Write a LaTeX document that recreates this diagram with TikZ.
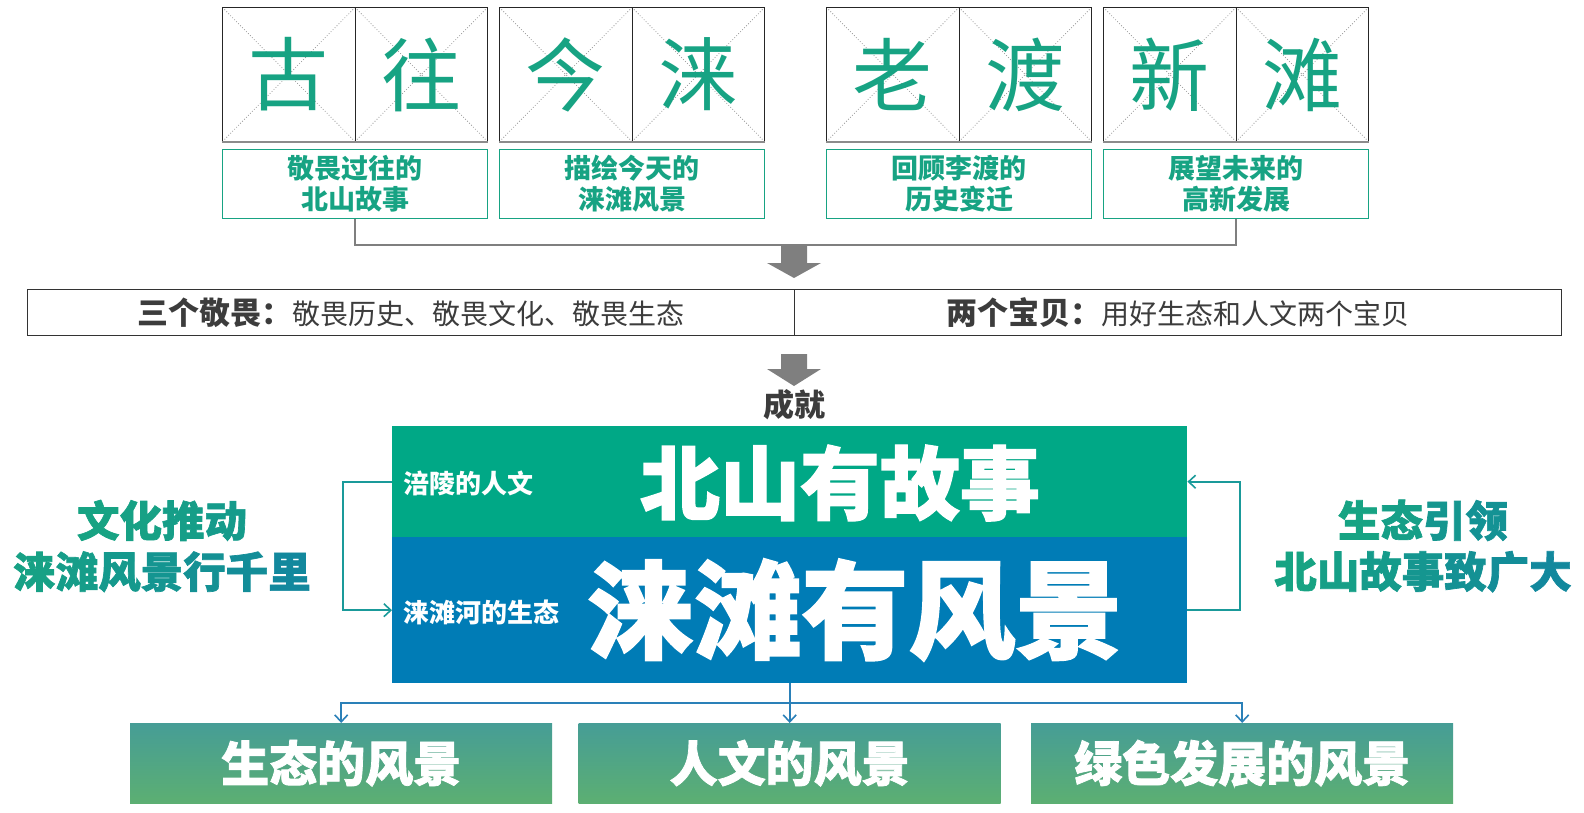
\documentclass[tikz,border=0pt]{standalone}
\usepackage{fontspec}
\setmainfont{Noto Sans CJK SC}
\newfontfamily\heavy[FakeBold=1.6]{Noto Sans CJK SC}
\usetikzlibrary{arrows.meta}
\definecolor{mgreen}{HTML}{00A886}
\definecolor{mblue}{HTML}{007CB6}
\definecolor{tgreen}{HTML}{17A383}
\definecolor{tteal}{HTML}{12879E}
\definecolor{agray}{HTML}{7F7F7F}
\definecolor{cline}{HTML}{1A9A9A}
\definecolor{blinec}{HTML}{2A80B8}
\definecolor{btop}{HTML}{469D96}
\definecolor{bbot}{HTML}{5CAF72}
\definecolor{dgray}{HTML}{3C3C3C}
\newcommand{\myfs}[1]{\fontsize{#1}{#1}\selectfont}
\newcommand{\gc}[2]{\textcolor{tteal!#1!tgreen}{#2}}
\begin{document}
\begin{tikzpicture}[x=1pt,y=-1pt,
  cell/.style={draw=black!85, line width=1pt, minimum width=132.5pt, minimum height=134pt,
    inner sep=0pt, anchor=north west, text=tgreen, font=\myfs{80},
    path picture={\draw[gray!80, dotted, line width=0.8pt]
      (path picture bounding box.north west) -- (path picture bounding box.south east)
      (path picture bounding box.north east) -- (path picture bounding box.south west);}},
  subbox/.style={draw=tgreen, line width=1.2pt, minimum width=265pt, minimum height=69pt,
    inner sep=0pt, anchor=north west, text=tgreen, align=center,
    font=\bfseries\fontsize{27}{31}\selectfont},
  midbox/.style={draw=black!80, line width=1pt, minimum height=46pt, inner sep=0pt,
    anchor=north west, text=dgray},
  bigbox/.style={minimum width=795pt, inner sep=0pt, anchor=north west},
  outbox/.style={minimum width=422pt, minimum height=80pt, inner sep=0pt, anchor=north west,
    top color=btop, bottom color=bbot, text=white, font=\heavy\bfseries\myfs{48}},
  sidetext/.style={align=center, font=\heavy\bfseries\fontsize{42.5}{51}\selectfont},
  conn/.style={cline, line width=2pt, -{Straight Barb[length=7pt,width=13pt,line width=1.6pt]}},
  bconn/.style={blinec, line width=2pt, -{Straight Barb[length=7pt,width=13pt,line width=1.6pt]}},
  bstem/.style={blinec, line width=2pt},
  blockarrow/.style={fill=agray}
]
\useasboundingbox (0,0) rectangle (1584,813);

% top cells
\node[cell] (c1) at (222,7) {古};
\node[cell] (c2) at (354.5,7) {往};
\node[cell] (c3) at (499,7) {今};
\node[cell] (c4) at (631.5,7) {涞};
\node[cell] (c5) at (826,7) {老};
\node[cell] (c6) at (958.5,7) {渡};
\node[cell] (c7) at (1103,7) {新};
\node[cell] (c8) at (1235.5,7) {滩};
\foreach \a/\b in {c1/c2,c3/c4,c5/c6,c7/c8}{
  \draw[gray!90, line width=2.2pt] (\a.south west) -- (\b.south east);
}

% subtitle boxes
\node[subbox] (s1) at (222,149) {敬畏过往的\\北山故事};
\node[subbox] (s2) at (499,149) {描绘今天的\\涞滩风景};
\node[subbox] (s3) at (826,149) {回顾李渡的\\历史变迁};
\node[subbox] (s4) at (1103,149) {展望未来的\\高新发展};

% bracket
\draw[agray, line width=2.2pt] (s1.south) -- ++(0,26) -| (s4.south);

% block arrow 1
\fill[blockarrow] (781,246) -- (807,246) -- (807,263) -- (821,263) -- (794,278)
  -- (767,263) -- (781,263) -- cycle;

% middle box
\node[midbox, minimum width=767pt] (m1) at (27,289)
  {{\bfseries\myfs{31}三个敬畏：}{\myfs{28}敬畏历史、敬畏文化、敬畏生态}};
\node[midbox, minimum width=767pt] (m2) at (794,289)
  {{\bfseries\myfs{31}两个宝贝：}{\myfs{28}用好生态和人文两个宝贝}};

% block arrow 2
\fill[blockarrow] (781,354) -- (807,354) -- (807,369) -- (821,369) -- (794,386)
  -- (767,369) -- (781,369) -- cycle;
\node[text=dgray, font=\bfseries\myfs{31}] (cj) at (794,405) {成就};

% central boxes
\node[bigbox, fill=mgreen, minimum height=111pt] (g) at (392,426) {};
\node[bigbox, fill=mblue, minimum height=146pt] (b) at (392,537) {};
\node[anchor=west, text=white, font=\bfseries\myfs{26}] (g1) at (400,483) {涪陵的人文};
\node[text=white, font=\heavy\bfseries\myfs{80}] (g2) at (840,483) {北山有故事};
\node[anchor=west, text=white, font=\bfseries\myfs{26}] (b1) at (400,612) {涞滩河的生态};
\node[text=white, font=\heavy\bfseries\myfs{107}] (b2) at (855,610) {涞滩有风景};

% side texts
\node[sidetext] (lt) at (162,546)
  {\gc{0}{文}\gc{8}{化}\gc{18}{推}\gc{30}{动}\\
   \gc{8}{涞}\gc{22}{滩}\gc{36}{风}\gc{50}{景}\gc{64}{行}\gc{80}{千}\gc{95}{里}};
\node[sidetext] (rt) at (1423,546)
  {\gc{0}{生}\gc{15}{态}\gc{45}{引}\gc{62}{领}\\
   \gc{0}{北}\gc{15}{山}\gc{30}{故}\gc{48}{事}\gc{64}{致}\gc{80}{广}\gc{95}{大}};

% side connectors
\draw[conn] (g.west) -- ++(-49,0) |- (b.west);
\draw[conn] (b.east) -- ++(53,0) |- (g.east);

% bottom boxes
\node[outbox] (o1) at (130,723) {生态的风景};
\node[outbox] (o2) at (578.5,723) {人文的风景};
\node[outbox] (o3) at (1031,723) {绿色发展的风景};

% bottom connectors
\draw[bstem] (b.south) -- ++(0,20) coordinate (hj);
\draw[bconn] (hj) -- (o2.north);
\draw[bconn] (hj) -| (o1.north);
\draw[bconn] (hj) -| (o3.north);
\end{tikzpicture}
\end{document}
